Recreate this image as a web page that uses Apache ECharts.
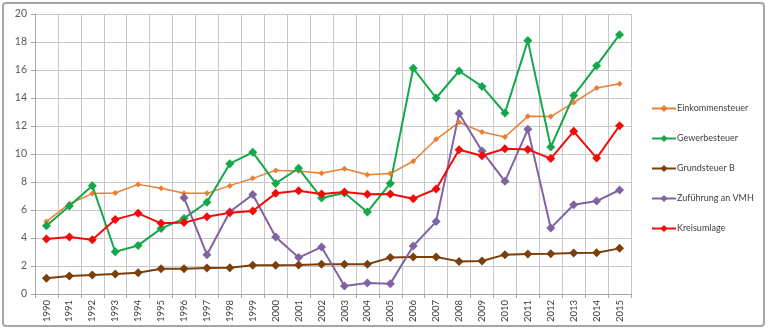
<!DOCTYPE html>
<html>
<head>
<meta charset="utf-8">
<script src="https://cdn.jsdelivr.net/npm/echarts@6/dist/echarts.min.js"></script>
<style>html,body{margin:0;padding:0;background:#fff}#c{width:768px;height:330px}</style>
</head>
<body>
<div id="c"></div>
<script>
const years = ['1990','1991','1992','1993','1994','1995','1996','1997','1998','1999','2000','2001','2002','2003','2004','2005','2006','2007','2008','2009','2010','2011','2012','2013','2014','2015'];
const einkommensteuer = [5.17,6.45,7.17,7.21,7.83,7.55,7.19,7.19,7.74,8.26,8.83,8.79,8.62,8.95,8.52,8.6,9.48,11.05,12.26,11.57,11.21,12.69,12.67,13.67,14.71,15.02];
const gewerbesteuer = [4.88,6.29,7.74,3.02,3.47,4.67,5.4,6.55,9.31,10.12,7.9,8.98,6.85,7.22,5.86,7.9,16.12,14.0,15.93,14.83,12.93,18.1,10.5,14.17,16.31,18.52];
const grundsteuerB = [1.12,1.29,1.36,1.43,1.52,1.8,1.8,1.85,1.87,2.05,2.05,2.07,2.12,2.12,2.12,2.6,2.64,2.64,2.33,2.36,2.81,2.86,2.88,2.93,2.95,3.26];
const zufuehrungVMH = [null,null,null,null,null,null,6.88,2.81,5.88,7.1,4.07,2.6,3.35,0.57,0.79,0.74,3.43,5.17,12.9,10.21,8.05,11.76,4.71,6.38,6.64,7.43];
const kreisumlage = [3.93,4.07,3.88,5.33,5.76,5.05,5.1,5.52,5.81,5.93,7.19,7.38,7.15,7.29,7.12,7.14,6.81,7.5,10.31,9.88,10.38,10.33,9.67,11.62,9.71,12.02];
const yTicks = [0,2,4,6,8,10,12,14,16,18,20];

function mk(name, data, color, size, width) {
  return {
    name, type: 'line', data, symbol: 'diamond', symbolSize: size,
    showAllSymbol: true, connectNulls: false,
    lineStyle: {color, width}, itemStyle: {color},
    emphasis: {disabled: true}
  };
}
const chart = echarts.init(document.getElementById('c'), null, {renderer: 'canvas'});
chart.setOption({
  animation: false,
  backgroundColor: '#fff',
  graphic: [{type: 'rect', shape: {x: 3, y: 3, width: 761, height: 323, r: 3}, style: {fill: 'none', stroke: '#a6a6a6', lineWidth: 2}, z: -1}],
  grid: {left: 35, right: 137, top: 14, bottom: 36},
  legend: {
    orient: 'vertical', left: 646, top: 99, itemGap: 21, itemWidth: 24, itemHeight: 9,
    textStyle: {fontFamily: 'Lato', fontSize: 9, color: '#404040', padding: [0, 0, 0, -4]},
    data: ['Einkommensteuer','Gewerbesteuer','Grundsteuer B','Zuführung an VMH','Kreisumlage']
  },
  xAxis: {
    type: 'category', data: years, boundaryGap: true,
    axisLine: {lineStyle: {color: '#a6a6a6'}},
    axisTick: {show: true, length: 4, lineStyle: {color: '#a6a6a6'}},
    splitLine: {show: true, lineStyle: {color: '#c8c8c8'}},
    axisLabel: {rotate: 90, fontSize: 9.5, color: '#404040', fontFamily: 'Lato', margin: 6, interval: 0}
  },
  yAxis: {
    type: 'value', min: 0, max: 20, interval: 2,
    axisLine: {show: true, lineStyle: {color: '#a6a6a6'}},
    axisTick: {show: true, length: 4, lineStyle: {color: '#a6a6a6'}},
    splitLine: {lineStyle: {color: '#c8c8c8'}},
    axisLabel: {fontSize: 10.5, color: '#595959', fontFamily: 'Lato', margin: 8,
      formatter: v => yTicks.includes(v) ? String(v) : ''}
  },
  series: [
    mk('Einkommensteuer', einkommensteuer, '#ED7D31', 6, 1.5),
    mk('Gewerbesteuer', gewerbesteuer, '#14A84A', 9, 2),
    mk('Grundsteuer B', grundsteuerB, '#7B3F0C', 9, 2),
    mk('Zuführung an VMH', zufuehrungVMH, '#8064A2', 9, 2),
    mk('Kreisumlage', kreisumlage, '#F50A0A', 9, 2)
  ]
});
</script>
</body>
</html>
